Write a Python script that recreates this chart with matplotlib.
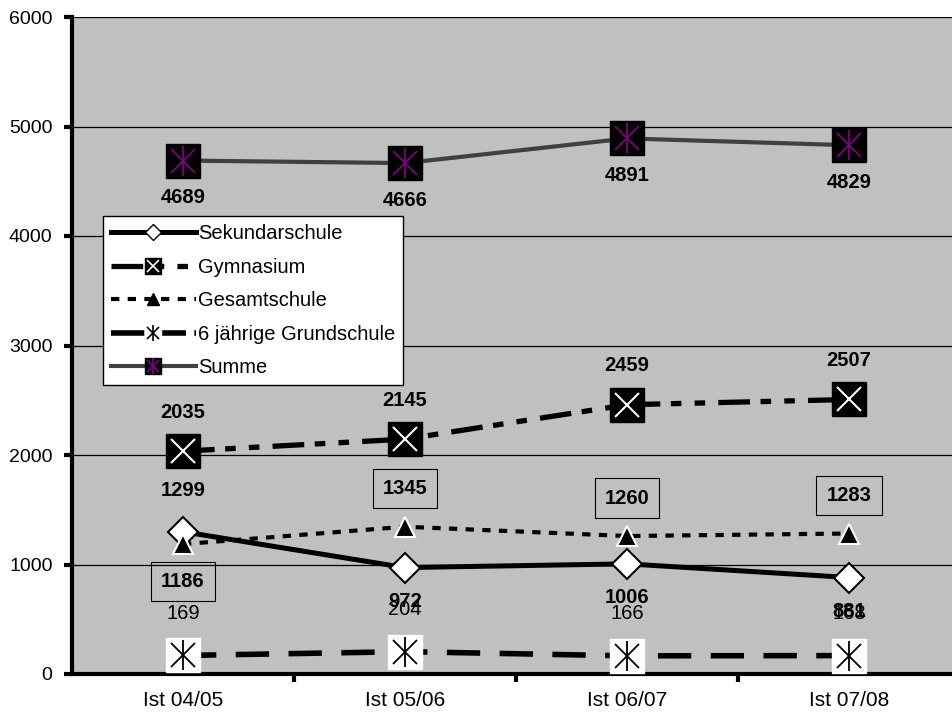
import numpy as np
import matplotlib.pyplot as plt
from matplotlib.lines import Line2D
from matplotlib.legend_handler import HandlerTuple

plt.rcParams['font.family'] = ['Liberation Sans', 'DejaVu Sans']

# data
categories = ['Ist 04/05', 'Ist 05/06', 'Ist 06/07', 'Ist 07/08']
sekundar = [1299, 972, 1006, 881]
gymnasium = [2035, 2145, 2459, 2507]
gesamt = [1186, 1345, 1260, 1283]
grundschule = [169, 204, 166, 168]
summe = [4689, 4666, 4891, 4829]

x = np.arange(len(categories))
purple = '#800080'

fig = plt.figure(figsize=(9.52, 7.16), dpi=100)
ax = fig.add_axes([72 / 952, 42 / 716, 888 / 952, 657 / 716])
ax.set_facecolor('#C0C0C0')

# lines
ax.plot(x, sekundar, color='black', lw=3.6, zorder=3)
ax.plot(x, gymnasium, color='black', lw=3.8, dashes=(6, 2, 2, 2.5, 2, 2.5), zorder=3)
ax.plot(x, gesamt, color='black', lw=3.0, dashes=(2, 2), zorder=3)
ax.plot(x, grundschule, color='black', lw=4.0, dashes=(6, 3.5), zorder=3)
ax.plot(x, summe, color='#404040', lw=3.0, zorder=3)

# markers
ax.plot(x, sekundar, ls='none', marker='D', ms=15, mfc='white', mec='black', mew=1.5, zorder=5)
ax.plot(x, gymnasium, ls='none', marker='s', ms=24, mfc='black', mec='black', zorder=5)
ax.plot(x, gymnasium, ls='none', marker='x', ms=17, mec='white', mew=1.5, zorder=6)
ax.plot(x, gesamt, ls='none', marker='^', ms=15, mfc='black', mec='white', mew=1.5, zorder=5)
ax.plot(x, grundschule, ls='none', marker='s', ms=24, mfc='white', mec='white', zorder=5)
ax.plot(x, grundschule, ls='none', marker='x', ms=17, mec='black', mew=1.3, zorder=6)
ax.plot(x, grundschule, ls='none', marker='|', ms=22, mec='black', mew=1.3, zorder=6)
ax.plot(x, summe, ls='none', marker='s', ms=24, mfc='black', mec='black', zorder=5)
ax.plot(x, summe, ls='none', marker='x', ms=17, mec=purple, mew=1.3, zorder=6)
ax.plot(x, summe, ls='none', marker='|', ms=22, mec=purple, mew=1.3, zorder=6)

# data labels
def label(xi, v, dy, bold=True, box=False):
    kw = {}
    if box:
        kw['bbox'] = dict(boxstyle='square,pad=0.5', fc='none', ec='black', lw=0.8)
    ax.annotate(str(v), (xi, v), xytext=(0, dy), textcoords='offset pixels',
                ha='center', va='center', fontsize=14.5,
                fontweight='bold' if bold else 'normal', zorder=7, **kw)

for i in range(len(x)):
    label(i, summe[i], -37)
    label(i, gymnasium[i], 39)
    label(i, sekundar[i], 41 if i == 0 else -34)
    label(i, gesamt[i], -37 if i == 0 else 38, box=True)
    label(i, grundschule[i], 42, bold=False)

# axes
ax.set_xlim(-0.5, 3.5)
ax.set_ylim(0, 6000)
ax.set_yticks(np.arange(0, 6001, 1000))
ax.yaxis.grid(True, color='black', lw=0.9)
ax.set_axisbelow(True)
ax.set_xticks(x)
ax.set_xticklabels(categories)
ax.set_xticks([0.5, 1.5, 2.5], minor=True)
ax.tick_params(axis='x', which='major', length=0, labelsize=15, pad=12)
ax.tick_params(axis='x', which='minor', length=6, width=3)
ax.tick_params(axis='y', length=6, width=3, labelsize=14, pad=8)
for s in ['top', 'right']:
    ax.spines[s].set_visible(False)
ax.spines['left'].set_linewidth(3)
ax.spines['bottom'].set_linewidth(3)

# legend
h_sek = Line2D([], [], color='black', lw=3.6, marker='D', ms=8, mfc='white', mec='black')
h_gym = (Line2D([], [], color='black', lw=3.8, dashes=(6, 2, 2, 2.5, 2, 2.5),
                marker='s', ms=12, mfc='black', mec='black'),
         Line2D([], [], ls='none', marker='x', ms=8, mec='white', mew=1.2))
h_ges = Line2D([], [], color='black', lw=3.0, dashes=(2, 2), marker='^', ms=8,
               mfc='black', mec='black')
h_gru = (Line2D([], [], color='black', lw=4.0, dashes=(6, 1.5), marker='s', ms=12,
                mfc='white', mec='white'),
         Line2D([], [], ls='none', marker='x', ms=8, mec='black', mew=1.2),
         Line2D([], [], ls='none', marker='|', ms=11, mec='black', mew=1.2))
h_sum = (Line2D([], [], color='#404040', lw=3.0, marker='s', ms=12, mfc='black', mec='black'),
         Line2D([], [], ls='none', marker='x', ms=8, mec=purple, mew=1.2),
         Line2D([], [], ls='none', marker='|', ms=11, mec=purple, mew=1.2))
leg = ax.legend([h_sek, h_gym, h_ges, h_gru, h_sum],
                ['Sekundarschule', 'Gymnasium', 'Gesamtschule', '6 jährige Grundschule', 'Summe'],
                handler_map={tuple: HandlerTuple(ndivide=1, pad=0)},
                loc='upper left', bbox_to_anchor=(0.035, 0.697), borderaxespad=0,
                fontsize=14.5, handlelength=4.2, handletextpad=0.1, labelspacing=0.72,
                fancybox=False, framealpha=1, edgecolor='black', borderpad=0.4)
leg.get_frame().set_linewidth(1.0)
leg.set_zorder(10)

fig.savefig('out.png', dpi=100)
